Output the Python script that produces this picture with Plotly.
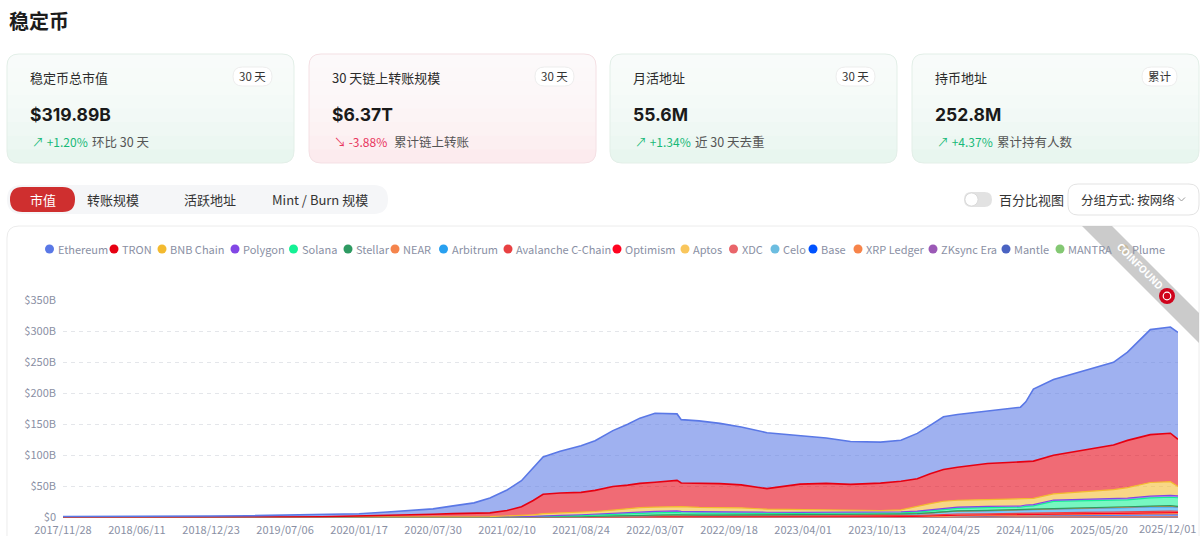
import plotly.graph_objects as go

W, H = 1200, 536
FONT = "Noto Sans CJK SC"
NUMFONT = "Inter, Noto Sans CJK SC"

# ---------------- data (values in $B) ----------------
dates = [
    "2017-11-28", "2018-03-01", "2018-06-11", "2018-09-15", "2018-12-23", "2019-04-01", "2019-07-06", "2019-10-10", "2020-01-17", "2020-04-01",
    "2020-06-01", "2020-07-30", "2020-09-21", "2020-11-15", "2020-12-27", "2021-02-10", "2021-03-20", "2021-04-20", "2021-05-16", "2021-06-30",
    "2021-08-24", "2021-09-30", "2021-11-16", "2021-12-25", "2022-01-26", "2022-03-07", "2022-05-04", "2022-05-15", "2022-07-01", "2022-08-25",
    "2022-10-20", "2022-12-27", "2023-03-24", "2023-06-01", "2023-08-04", "2023-10-22", "2023-12-15", "2024-01-27", "2024-03-01", "2024-04-05",
    "2024-05-12", "2024-07-30", "2024-10-25", "2024-11-08", "2024-11-28", "2025-01-20", "2025-04-09", "2025-06-27", "2025-08-03", "2025-10-02",
    "2025-11-24", "2025-12-14",
]

ethereum = [1.5, 2.0, 2.5, 2.8, 2.4, 2.4, 2.7, 3.2, 3.7, 5.7,
            7.7, 8.7, 12.5, 16.5, 24, 33, 42, 52, 60, 67,
            75, 80, 90, 98, 105, 111, 107, 102, 100, 97,
            93, 90, 78, 73, 69, 66, 66, 73, 78, 85,
            85, 84, 88, 96, 116, 122, 128, 133, 142, 169,
            171, 172]
tron = [0, 0, 0, 0, 0.1, 0.4, 0.8, 1.3, 2.2, 3.1,
        4.0, 4.8, 5.5, 6.0, 6.0, 9, 14, 23, 31, 32,
        32, 34, 38, 38, 39, 40, 42, 38, 39, 38,
        37, 33, 41, 43, 42, 44, 46, 44, 48, 51,
        53, 58, 60, 60, 60, 62, 66, 72, 76, 77,
        78, 76]
bnb = [0, 0, 0, 0, 0, 0, 0, 0, 0.1, 0.1,
       0.1, 0.2, 0.5, 0.8, 1.1, 1.5, 2, 2.5, 3.5, 4,
       4, 4, 5, 6, 7, 7, 7, 7.5, 7, 7,
       6.5, 5, 4.5, 3.5, 3, 2.5, 3, 8, 10, 11,
       11, 11, 11, 10, 10, 10, 13, 15, 17, 22,
       22, 15]
polygon = [0, 0, 0, 0, 0, 0, 0, 0, 0, 0,
           0, 0, 0, 0, 0, 0.1, 0.2, 0.4, 0.8, 1.0,
           1.3, 1.6, 1.8, 2.0, 2.2, 2.3, 2.5, 2.4, 2.3, 2.2,
           2.0, 1.9, 1.8, 1.7, 1.6, 1.6, 1.6, 1.7, 1.8, 1.9,
           1.9, 2.0, 2.0, 2.1, 2.1, 2.2, 2.4, 2.6, 2.8, 2.9,
           3.0, 3.0]
solana = [0, 0, 0, 0, 0, 0, 0, 0, 0, 0.05,
          0.1, 0.1, 0.15, 0.2, 0.3, 0.5, 0.8, 1.0, 1.3, 1.5,
          1.9, 2.2, 2.5, 3.0, 3.3, 3.7, 4.0, 3.6, 3.2, 3.3,
          3.0, 2.6, 2.2, 2.2, 1.9, 1.9, 1.9, 2.3, 3.0, 3.8,
          4.2, 4.4, 4.4, 5.0, 5.2, 11.5, 11.3, 11.0, 11.0, 13.0,
          13.5, 14.0]
stellar = [0, 0, 0, 0, 0, 0, 0, 0, 0, 0,
           0, 0, 0.02, 0.02, 0.02, 0.05, 0.05, 0.08, 0.1, 0.1,
           0.12, 0.15, 0.15, 0.2, 0.2, 0.2, 0.2, 0.2, 0.2, 0.2,
           0.2, 0.2, 0.2, 0.2, 0.2, 0.25, 0.25, 0.3, 0.3, 0.3,
           0.3, 0.3, 0.3, 0.35, 0.35, 0.4, 0.5, 0.6, 0.6, 0.7,
           0.7, 0.7]
near = [0] * 26 + [0.05, 0.05, 0.05, 0.05, 0.05, 0.05, 0.05, 0.1, 0.1, 0.1, 0.1] + \
       [0.1, 0.1, 0.15, 0.2, 0.3, 0.4, 0.5, 0.5, 0.5, 0.6, 0.7, 0.8, 0.8, 0.8, 0.8]
arbitrum = [0] * 21 + [0.1, 0.2, 0.4, 0.6, 0.8] + \
           [1.0, 1.0, 1.0, 1.1, 1.2, 1.3, 1.6, 1.9, 2.0, 2.2, 2.5] + \
           [2.7, 3.2, 4.0, 4.5, 4.8, 5.0, 5.5, 5.5, 5.8, 5.8, 6.0, 6.5, 7.0, 7.2, 6.2]
avalanche = [0] * 15 + [0.05, 0.1, 0.3, 0.6, 0.8, 1.0, 1.5, 2.0, 2.2, 2.3, 2.4] + \
            [2.5, 2.3, 2.2, 2.1, 2.0, 1.8, 1.6, 1.5, 1.4, 1.5, 1.6] + \
            [1.7, 1.8, 2.0, 2.0, 1.9, 1.9, 1.9, 1.9, 2.0, 2.0, 2.1, 2.2, 2.4, 2.4, 2.3]
optimism = [0] * 23 + [0.05, 0.1, 0.2] + [0.3, 0.3, 0.4, 0.4, 0.5, 0.5, 0.6, 0.6, 0.6, 0.6, 0.6] + \
           [0.6, 0.6, 0.6, 0.6, 0.6, 0.6, 0.6, 0.6, 0.6, 0.6, 0.6, 0.6, 0.6, 0.6, 0.6]
aptos = [0] * 31 + [0.01, 0.02, 0.03, 0.03, 0.04, 0.05] + \
        [0.05, 0.1, 0.2, 0.3, 0.3, 0.4, 0.4, 0.5, 0.6, 0.8, 1.1, 1.2, 1.2, 1.3, 1.2]
xdc = [0] * 37 + [0.01, 0.01, 0.01, 0.02, 0.02, 0.03, 0.03, 0.03, 0.05, 0.05, 0.1, 0.1, 0.15, 0.15, 0.15]
celo = [0] * 10 + [0.01, 0.02, 0.03, 0.03, 0.04] + \
       [0.05, 0.05, 0.06, 0.07, 0.08, 0.1, 0.12, 0.15, 0.2, 0.2, 0.2] + \
       [0.15, 0.12, 0.1, 0.1, 0.1, 0.1, 0.1, 0.1, 0.1, 0.1, 0.1] + \
       [0.1, 0.1, 0.15, 0.2, 0.2, 0.2, 0.25, 0.3, 0.3, 0.3, 0.3, 0.4, 0.4, 0.4, 0.4]
base = [0] * 34 + [0.1, 0.2, 0.3] + \
       [0.5, 0.9, 1.6, 2.0, 2.5, 2.8, 3.0, 3.2, 3.5, 3.8, 3.9, 4.0, 4.1, 4.3, 4.2]
xrp = [0] * 43 + [0.01, 0.02, 0.05, 0.1, 0.2, 0.3, 0.4, 0.5, 0.5]
zksync = [0] * 32 + [0.05, 0.1, 0.15, 0.15, 0.15] + \
         [0.15, 0.15, 0.15, 0.12, 0.1, 0.1, 0.1, 0.1, 0.1, 0.08, 0.08, 0.08, 0.08, 0.08, 0.08]
mantle = [0] * 34 + [0.05, 0.1, 0.1] + \
         [0.15, 0.2, 0.3, 0.4, 0.4, 0.4, 0.4, 0.4, 0.5, 0.5, 0.4, 0.4, 0.4, 0.4, 0.4]
mantra = [0] * 45 + [0.01, 0.02, 0.03, 0.03, 0.04, 0.05, 0.05]
plume = [0] * 46 + [0.02, 0.05, 0.1, 0.15, 0.2, 0.2]

series_names = ["Ethereum", "TRON", "BNB Chain", "Polygon", "Solana", "Stellar", "NEAR", "Arbitrum",
                "Avalanche C-Chain", "Optimism", "Aptos", "XDC", "Celo", "Base", "XRP Ledger",
                "ZKsync Era", "Mantle", "MANTRA", "Plume"]
series_values = [ethereum, tron, bnb, polygon, solana, stellar, near, arbitrum, avalanche, optimism,
                 aptos, xdc, celo, base, xrp, zksync, mantle, mantra, plume]
series_colors = ["#5A78E6", "#E60012", "#F3BA2F", "#8247E5", "#14F195", "#2E9A62", "#F5844C", "#28A0F0",
                 "#E84142", "#FF0420", "#F9C65C", "#E9656A", "#6CBDE0", "#0052FF", "#F7844A",
                 "#9B59B6", "#4A63C2", "#84C873", "#E8A317"]

x_tick_dates = ["2017-11-28", "2018-06-11", "2018-12-23", "2019-07-06", "2020-01-17", "2020-07-30",
                "2021-02-10", "2021-08-24", "2022-03-07", "2022-09-18", "2023-04-01", "2023-10-13",
                "2024-04-25", "2024-11-06", "2025-05-20", "2025-12-01"]
x_tick_labels = ["2017/11/28", "2018/06/11", "2018/12/23", "2019/07/06", "2020/01/17", "2020/07/30",
                 "2021/02/10", "2021/08/24", "2022/03/07", "2022/09/18", "2023/04/01", "2023/10/13",
                 "2024/04/25", "2024/11/06", "2025/05/20", "2025/12/01"]
y_tick_vals = [0, 50, 100, 150, 200, 250, 300, 350]
y_tick_labels = ["$0", "$50B", "$100B", "$150B", "$200B", "$250B", "$300B", "$350B"]

card_titles = ["稳定币总市值", "30 天链上转账规模", "月活地址", "持币地址"]
card_badges = ["30 天", "30 天", "30 天", "累计"]
card_values = ["$319.89B", "$6.37T", "55.6M", "252.8M"]
card_changes = ["+1.20%", "-3.88%", "+1.34%", "+4.37%"]
card_notes = ["环比 30 天", "累计链上转账", "近 30 天去重", "累计持有人数"]
tabs = ["市值", "转账规模", "活跃地址", "Mint / Burn 规模"]

# ---------------- helpers (pixel -> paper) ----------------
def fx(px):
    return px / W


def fy(py):
    return 1 - py / H


def rrect(x0, y0, x1, y1, r, top_only=False):
    X = lambda v: f"{fx(v):.6f}"
    Y = lambda v: f"{fy(v):.6f}"
    p = f"M {X(x0 + r)},{Y(y0)} L {X(x1 - r)},{Y(y0)} Q {X(x1)},{Y(y0)} {X(x1)},{Y(y0 + r)} "
    if top_only:
        p += f"L {X(x1)},{Y(y1)} L {X(x0)},{Y(y1)} "
    else:
        p += (f"L {X(x1)},{Y(y1 - r)} Q {X(x1)},{Y(y1)} {X(x1 - r)},{Y(y1)} "
              f"L {X(x0 + r)},{Y(y1)} Q {X(x0)},{Y(y1)} {X(x0)},{Y(y1 - r)} ")
    p += f"L {X(x0)},{Y(y0 + r)} Q {X(x0)},{Y(y0)} {X(x0 + r)},{Y(y0)} Z"
    return p


shapes = []
annotations = []


def add_path(path, fill, line="rgba(0,0,0,0)", lw=0, layer="below"):
    shapes.append(dict(type="path", xref="paper", yref="paper", path=path, fillcolor=fill,
                       line=dict(color=line, width=lw), layer=layer))


def add_text(px, py, text, size=13, color="#333333", family=FONT, xanchor="left", angle=0):
    annotations.append(dict(xref="paper", yref="paper", x=fx(px), y=fy(py), text=text,
                            showarrow=False, xanchor=xanchor, yanchor="middle", textangle=angle,
                            font=dict(size=size, color=color, family=family)))


def add_circle(cx, cy, r, fill, line="rgba(0,0,0,0)", lw=0, layer="above"):
    shapes.append(dict(type="circle", xref="paper", yref="paper",
                       x0=fx(cx - r), x1=fx(cx + r), y0=fy(cy + r), y1=fy(cy - r),
                       fillcolor=fill, line=dict(color=line, width=lw), layer=layer))


# ---------------- page decoration ----------------
add_text(7, 20, "<b>稳定币</b>", size=20, color="#1c1c1c")

card_x = [7, 309, 610, 912]
card_w = 287
cy0, cy1 = 54, 163
for i in range(4):
    x0, x1 = card_x[i], card_x[i] + card_w
    pink = (i == 1)
    bottom = "#FCEBEE" if pink else "#E8F6EF"
    border = "#F4E0E4" if pink else "#E3EFE8"
    add_path(rrect(x0, cy0, x1, cy1, 12), bottom)
    for k in range(1, 8):
        add_path(rrect(x0, cy0, x1, cy0 + (cy1 - cy0) * k / 8, 12, top_only=True), "rgba(255,255,255,0.2)")
    add_path(rrect(x0, cy0, x1, cy1, 12), "rgba(0,0,0,0)", border, 1)
    bw = 35 if card_badges[i] == "累计" else 39
    bx1 = x1 - 22
    add_path(rrect(bx1 - bw, 67, bx1, 86, 9.5), "#FFFFFF", "#EDEDED", 1)
    add_text(bx1 - bw / 2, 76.5, card_badges[i], size=11.5, color="#333333", xanchor="center")
    add_text(x0 + 21, 77, card_titles[i], size=13, color="#2b2b2b")
    add_text(x0 + 21, 114, f"<b>{card_values[i]}</b>", size=17.5, color="#1a1a1a", family=NUMFONT)
    up = not card_changes[i].startswith("-")
    ccol = "#17B978" if up else "#E8365D"
    arrow = "↗" if up else "↘"
    add_text(x0 + 23, 141, f"{arrow} {card_changes[i]}", size=12, color=ccol, family=FONT)
    add_text(x0 + 83, 141, card_notes[i], size=12.5, color="#555555")

# tab row
add_path(rrect(7, 185, 388, 214, 14.5), "#F5F6F8")
add_path(rrect(10, 187, 75, 212, 12.5), "#CF2F2F")
tab_cx = [42.5, 113, 210, 320]
for i, t in enumerate(tabs):
    add_text(tab_cx[i], 199.5, t, size=13, color="#FFFFFF" if i == 0 else "#333333", xanchor="center")

# toggle + dropdown
add_path(rrect(964, 192, 992, 207, 7.5), "#E2E2E2")
add_circle(971.5, 199.5, 6.5, "#FFFFFF", "#D6D6D6", 0.8)
add_text(997, 199.5, "百分比视图", size=13, color="#333333")
add_path(rrect(1068, 184, 1199, 215, 10), "#FFFFFF", "#E3E3E3", 1)
add_text(1079, 199.5, "分组方式: 按网络", size=12.5, color="#333333")
shapes.append(dict(type="path", xref="paper", yref="paper",
                   path=f"M {fx(1178)},{fy(197.5)} L {fx(1181.5)},{fy(201)} L {fx(1185)},{fy(197.5)}",
                   line=dict(color="#9A9A9A", width=1), layer="above"))

# chart container
add_path(rrect(7, 226, 1199, 600, 12), "#FFFFFF", "#ECECEC", 1)

# manual legend (circle markers like the original)
legend_cx = [49.5, 114, 162, 235, 293.5, 348, 395, 443.5, 508, 617, 685, 733.5, 775, 813, 858, 933, 1006, 1060, 1124]
for i, name in enumerate(series_names):
    if name == "Plume":
        add_circle(legend_cx[i], 249, 3.6, "rgba(0,0,0,0)", series_colors[i], 1.8)
    else:
        add_circle(legend_cx[i], 249, 4.5, series_colors[i])
    add_text(legend_cx[i] + 6, 249, name, size=11, color="#8A90A4")

# watermark ribbon
add_path(f"M {fx(1082)},{fy(226)} L {fx(1112)},{fy(226)} L {fx(1199)},{fy(313)} L {fx(1199)},{fy(343)} Z",
         "rgba(190,190,190,0.8)", layer="above")
add_text(1140, 266, "<b>COINFOUND</b>", size=10, color="#FFFFFF", xanchor="center", angle=45)
add_circle(1167, 296, 8, "#D0021B")
add_circle(1167, 296, 3.8, "rgba(0,0,0,0)", "#FFFFFF", 1.2)

# last x tick label: kept on the axis scale but nudged left so it stays inside the window
annotations.append(dict(xref="x", yref="paper", x=x_tick_dates[-1], y=fy(528), text=x_tick_labels[-1],
                        showarrow=False, xanchor="center", yanchor="middle", xshift=-6,
                        font=dict(size=11, color="#8A90A4", family=FONT)))

# ---------------- chart ----------------
def rgba(hexc, a):
    h = hexc.lstrip("#")
    return f"rgba({int(h[0:2], 16)},{int(h[2:4], 16)},{int(h[4:6], 16)},{a})"


fig = go.Figure()
for i in reversed(range(len(series_names))):
    fig.add_trace(go.Scatter(
        x=dates, y=series_values[i], name=series_names[i], mode="lines",
        stackgroup="one", line=dict(color=series_colors[i], width=1.6 if i < 2 else 1.2),
        fillcolor=rgba(series_colors[i], 0.58), showlegend=False,
        hovertemplate="%{x}<br>" + series_names[i] + ": $%{y}B<extra></extra>",
    ))

fig.update_layout(
    width=W, height=H, autosize=False,
    margin=dict(l=0, r=0, t=0, b=0, pad=0, autoexpand=False),
    paper_bgcolor="#FFFFFF", plot_bgcolor="rgba(0,0,0,0)",
    showlegend=False,
    font=dict(family=FONT, size=12, color="#8A90A4"),
    shapes=shapes, annotations=annotations,
    xaxis=dict(type="date", domain=[fx(63), fx(1178)], range=["2017-11-28", "2025-12-14"],
               tickmode="array", tickvals=x_tick_dates[:-1], ticktext=x_tick_labels[:-1],
               tickfont=dict(size=11, color="#8A90A4"), showgrid=False, zeroline=False,
               showline=False, ticks="", automargin=False, ticklabelstandoff=4),
    yaxis=dict(domain=[fy(517.5), fy(300)], range=[0, 350], tickmode="array",
               tickvals=y_tick_vals, ticktext=y_tick_labels,
               tickfont=dict(size=11, color="#8A90A4"), showgrid=True, gridcolor="#E4E6EA",
               griddash="4px,4px", gridwidth=1, zeroline=False, showline=False, ticks="",
               automargin=False, ticklabelstandoff=6),
)

fig.write_html("out.html", config={"displayModeBar": False},
               post_script="document.body.style.margin='0px';document.body.style.overflow='hidden';")
